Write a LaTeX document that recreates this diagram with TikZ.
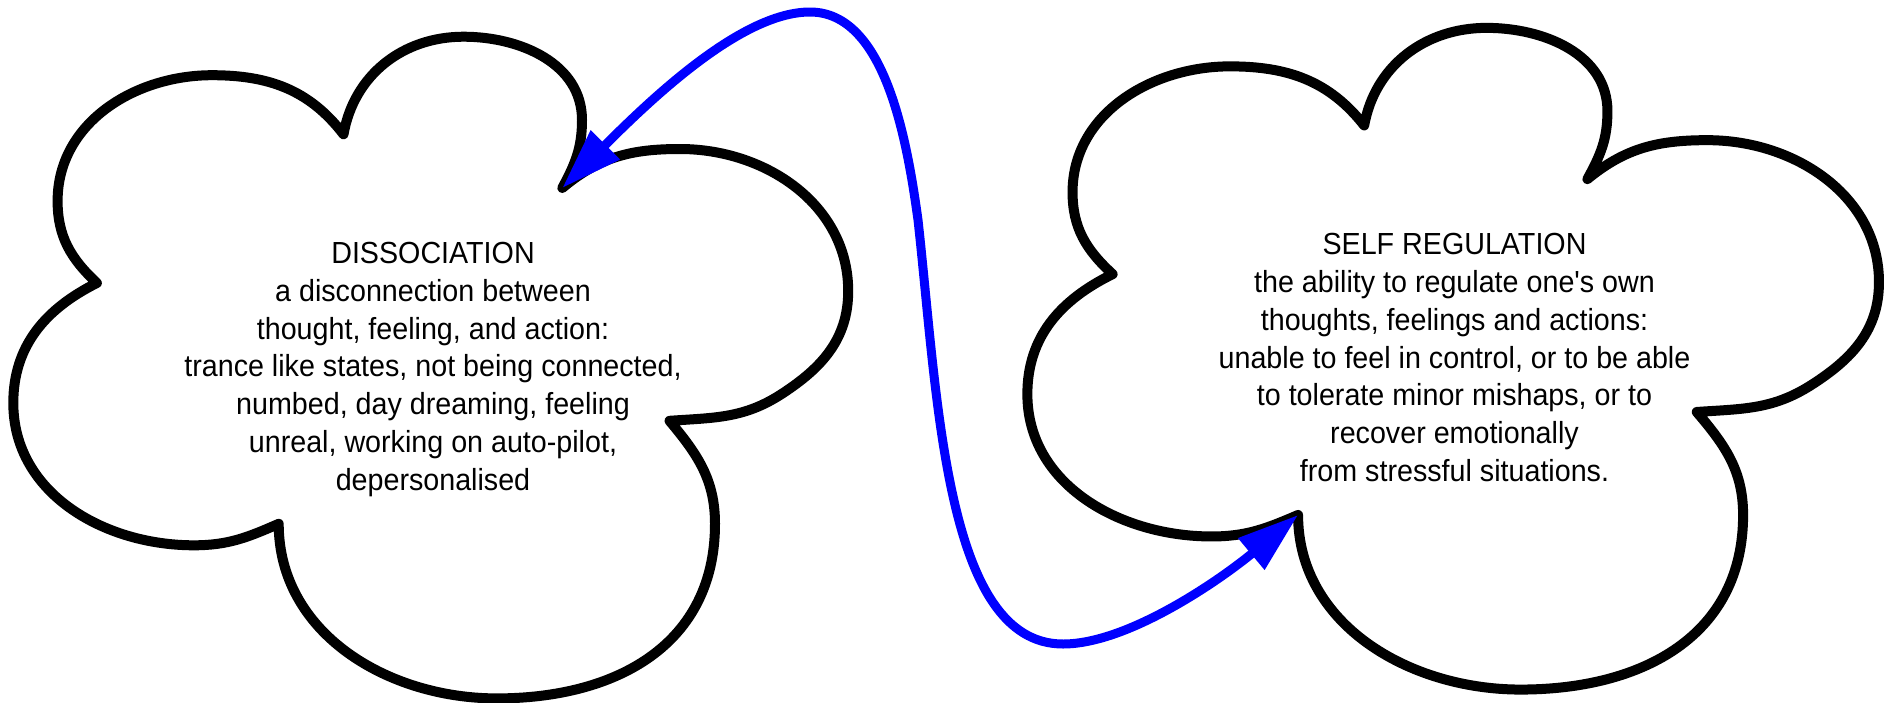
\documentclass[tikz,border=0pt]{standalone}
\usepackage{fontspec}
\newfontfamily\cloudfont{Liberation Sans}[FakeStretch=0.94]
\usetikzlibrary{arrows.meta}
\definecolor{linkblue}{RGB}{0,0,255}
\begin{document}
\begin{tikzpicture}[x=1pt,y=-1pt,
  outline/.style={draw=black, line width=10pt, line join=round, line cap=round},
  link/.style={draw=linkblue, line width=9pt,
    {Triangle[length=61pt,width=39pt]}-{Triangle[length=61pt,width=39pt]}},
  caption/.style={anchor=north, inner sep=0pt, align=center,
    font=\cloudfont\fontsize{30.5pt}{37.8pt}\selectfont},
  pics/thoughtcloud/.style={code={
    % five puffs, joined at sharp cusps A, B, C, D, E
    \draw[outline] (96.9,283)
      to[out=137,in=270] (57.6,201)
      to[out=90,in=180] (212,75.2)
      to[out=0,in=127.5] (343.5,134.3)
      to[out=80,in=180] (463.5,36.7)
      to[out=0,in=90] (582,120)
      to[out=-90,in=61.7] (562.3,188)
      to[out=40,in=180] (680,149)
      to[out=0,in=90] (848.2,291)
      to[out=-90,in=33] (781.6,394)
      to[out=213,in=4] (669.5,420.8)
      to[out=-50,in=90] (715,523.8)
      to[out=-90,in=0,looseness=1.1] (496.8,698.4)
      to[out=180,in=270] (278.7,523.8)
      to[out=203.6,in=0] (193.9,545.3)
      to[out=180,in=270] (13.3,403)
      to[out=90,in=206.6] (96.9,283)
      -- cycle;
    \coordinate (-cuspB) at (562.3,188);
    \coordinate (-cuspD) at (278.7,523.8);
  }}
]
\useasboundingbox (0,0) rectangle (1885,702);

\pic (L) at (0,0) {thoughtcloud};
\pic[xscale=1.02] (R) at (1013.8,-8.84) {thoughtcloud};

\node[caption] (dissoc) at (433,233.3) {\rule{0pt}{30pt}DISSOCIATION\\
  a disconnection between\\
  thought, feeling, and action:\\
  trance like states, not being connected,\\
  numbed, day dreaming, feeling\\
  unreal, working on auto-pilot,\\
  depersonalised};

\node[caption] (selfreg) at (1454.5,224.5) {\rule{0pt}{30pt}SELF REGULATION\\
  the ability to regulate one's own\\
  thoughts, feelings and actions:\\
  unable to feel in control, or to be able\\
  to tolerate minor mishaps, or to\\
  recover emotionally\\
  from stressful situations.};

% two-way link between the clouds
\draw[link] (L-cuspB) .. controls (660,90) and (745,12) .. (810,12)
  .. controls (885,12) and (907,140) .. (918,220)
  .. controls (938,400) and (945,644) .. (1063,644)
  .. controls (1130,644) and (1225,576) .. (R-cuspD);
\end{tikzpicture}
\end{document}
